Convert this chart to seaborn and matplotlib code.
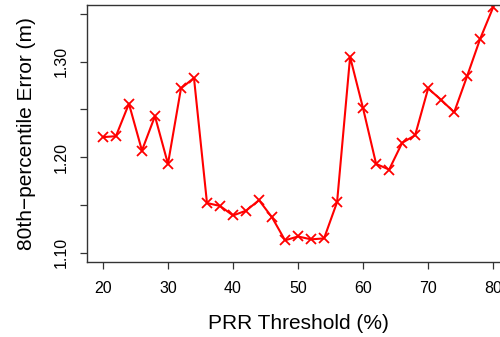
import matplotlib
matplotlib.use("Agg")
import matplotlib.pyplot as plt
import seaborn as sns
import pandas as pd

thresholds = [20, 22, 24, 26, 28, 30, 32, 34, 36, 38, 40, 42, 44, 46, 48, 50,
              52, 54, 56, 58, 60, 62, 64, 66, 68, 70, 72, 74, 76, 78, 80]
error80 = [1.221, 1.222, 1.256, 1.207, 1.243, 1.193, 1.272, 1.283, 1.152, 1.149,
           1.139, 1.144, 1.155, 1.137, 1.113, 1.117, 1.114, 1.115, 1.153, 1.305,
           1.251, 1.193, 1.187, 1.215, 1.223, 1.272, 1.260, 1.247, 1.285, 1.324,
           1.357]
yticks = [1.10, 1.15, 1.20, 1.25, 1.30, 1.35]
ytick_labels = ["1.10", "", "1.20", "", "1.30", ""]
xticks = [20, 30, 40, 50, 60, 70, 80]

df = pd.DataFrame({"threshold": thresholds, "error": error80})

sns.set_style("white")
plt.rcParams["font.family"] = ["Liberation Sans", "DejaVu Sans"]

fig = plt.figure(figsize=(5, 3.37), dpi=100)
ax = fig.add_axes([0.1746, 0.2226, 0.843, 0.7636])

sns.lineplot(data=df, x="threshold", y="error", ax=ax, color="#ff0000",
             linewidth=1.5, marker="x", markersize=7.5, markeredgewidth=1.3,
             markeredgecolor="#ff0000")

ax.set_xlim(17.6, 82.4)
ax.set_ylim(1.0903, 1.3597)
ax.set_xticks(xticks)
ax.set_xticklabels([str(t) for t in xticks])
ax.set_yticks(yticks)
ax.set_yticklabels(ytick_labels, rotation=90, va="center")

for s in ax.spines.values():
    s.set_visible(True)
    s.set_color("#333333")
    s.set_linewidth(1.0)

ax.tick_params(axis="both", direction="out", length=5, width=0.9,
               bottom=True, left=True, top=False, right=False,
               color="#333333", labelsize=11.5, labelcolor="black")
ax.tick_params(axis="x", pad=9)
ax.tick_params(axis="y", pad=8)

ax.set_xlabel("PRR Threshold (%)", fontsize=15, labelpad=13, color="black")
ax.set_ylabel("80th\u2212percentile Error (m)", fontsize=15, labelpad=13,
              color="black")

fig.savefig("out.png", dpi=100)
